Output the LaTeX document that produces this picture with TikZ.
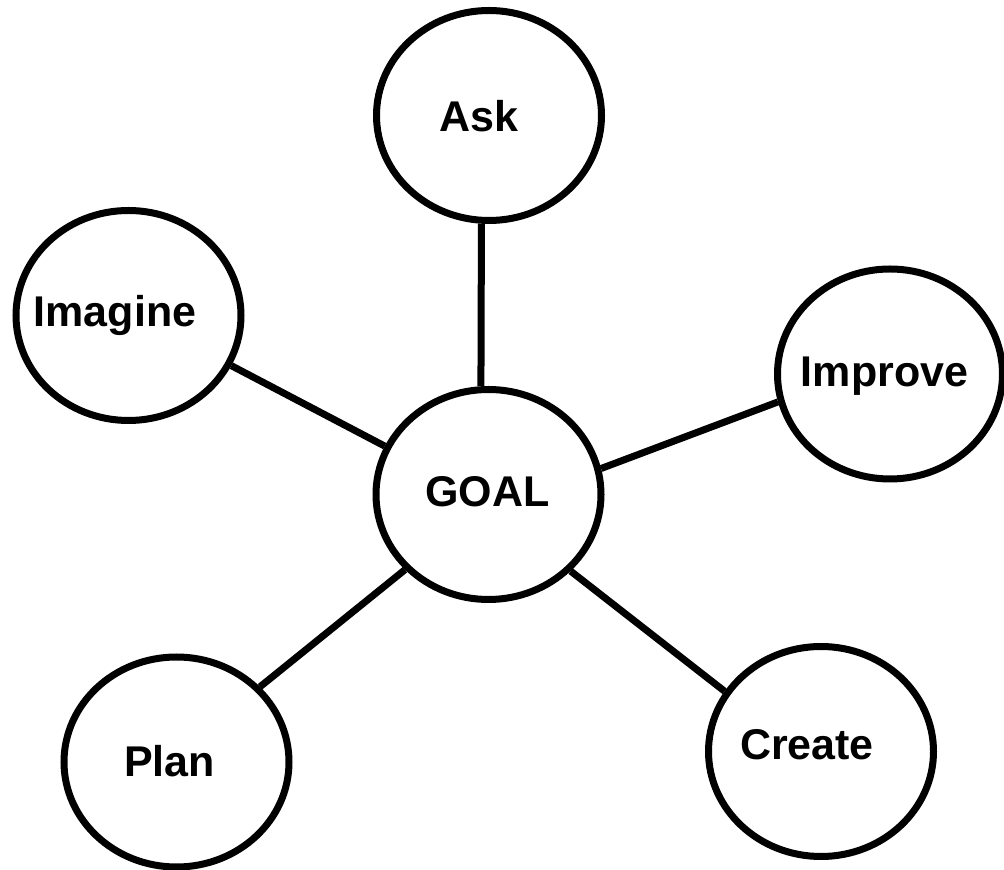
\documentclass[tikz,border=0pt]{standalone}
\usepackage{fontspec}
\setmainfont{Liberation Sans}
\usetikzlibrary{shapes.geometric}
\begin{document}
\begin{tikzpicture}[x=1pt,y=1pt,
  bubble/.style={ellipse,draw=black,line width=7pt,fill=white,minimum width=225pt,minimum height=210pt,inner sep=0pt},
  lbl/.style={anchor=base,inner sep=0pt,font=\fontsize{43}{50}\selectfont\bfseries},
  link/.style={line width=7pt,black}]
\useasboundingbox (0,0) rectangle (1004,870);
\node[bubble] (ask) at (489,754.5) {};
\node[bubble] (imagine) at (128.5,554.5) {};
\node[bubble] (improve) at (890,496) {};
\node[bubble] (goal) at (488.5,375.5) {};
\node[bubble] (plan) at (176.5,108) {};
\node[bubble] (create) at (821,118.5) {};
\node[lbl] (askt) at (479,738) {Ask};
\node[lbl] (imaginet) at (115,543) {Imagine};
\node[lbl] (improvet) at (884.5,483) {Improve};
\node[lbl] (goalt) at (487.5,363) {GOAL};
\node[lbl] (plant) at (169.5,93) {Plan};
\node[lbl] (createt) at (807,110) {Create};
\draw[link] (ask.266) -- (goal.94);
\draw[link] (imagine.334.4) -- (goal.155.2);
\draw[link] (improve.194.5) -- (goal.13.6);
\draw[link] (plan.42.5) -- (goal.222.1);
\draw[link] (create.148.2) -- (goal.317.9);
\end{tikzpicture}
\end{document}
